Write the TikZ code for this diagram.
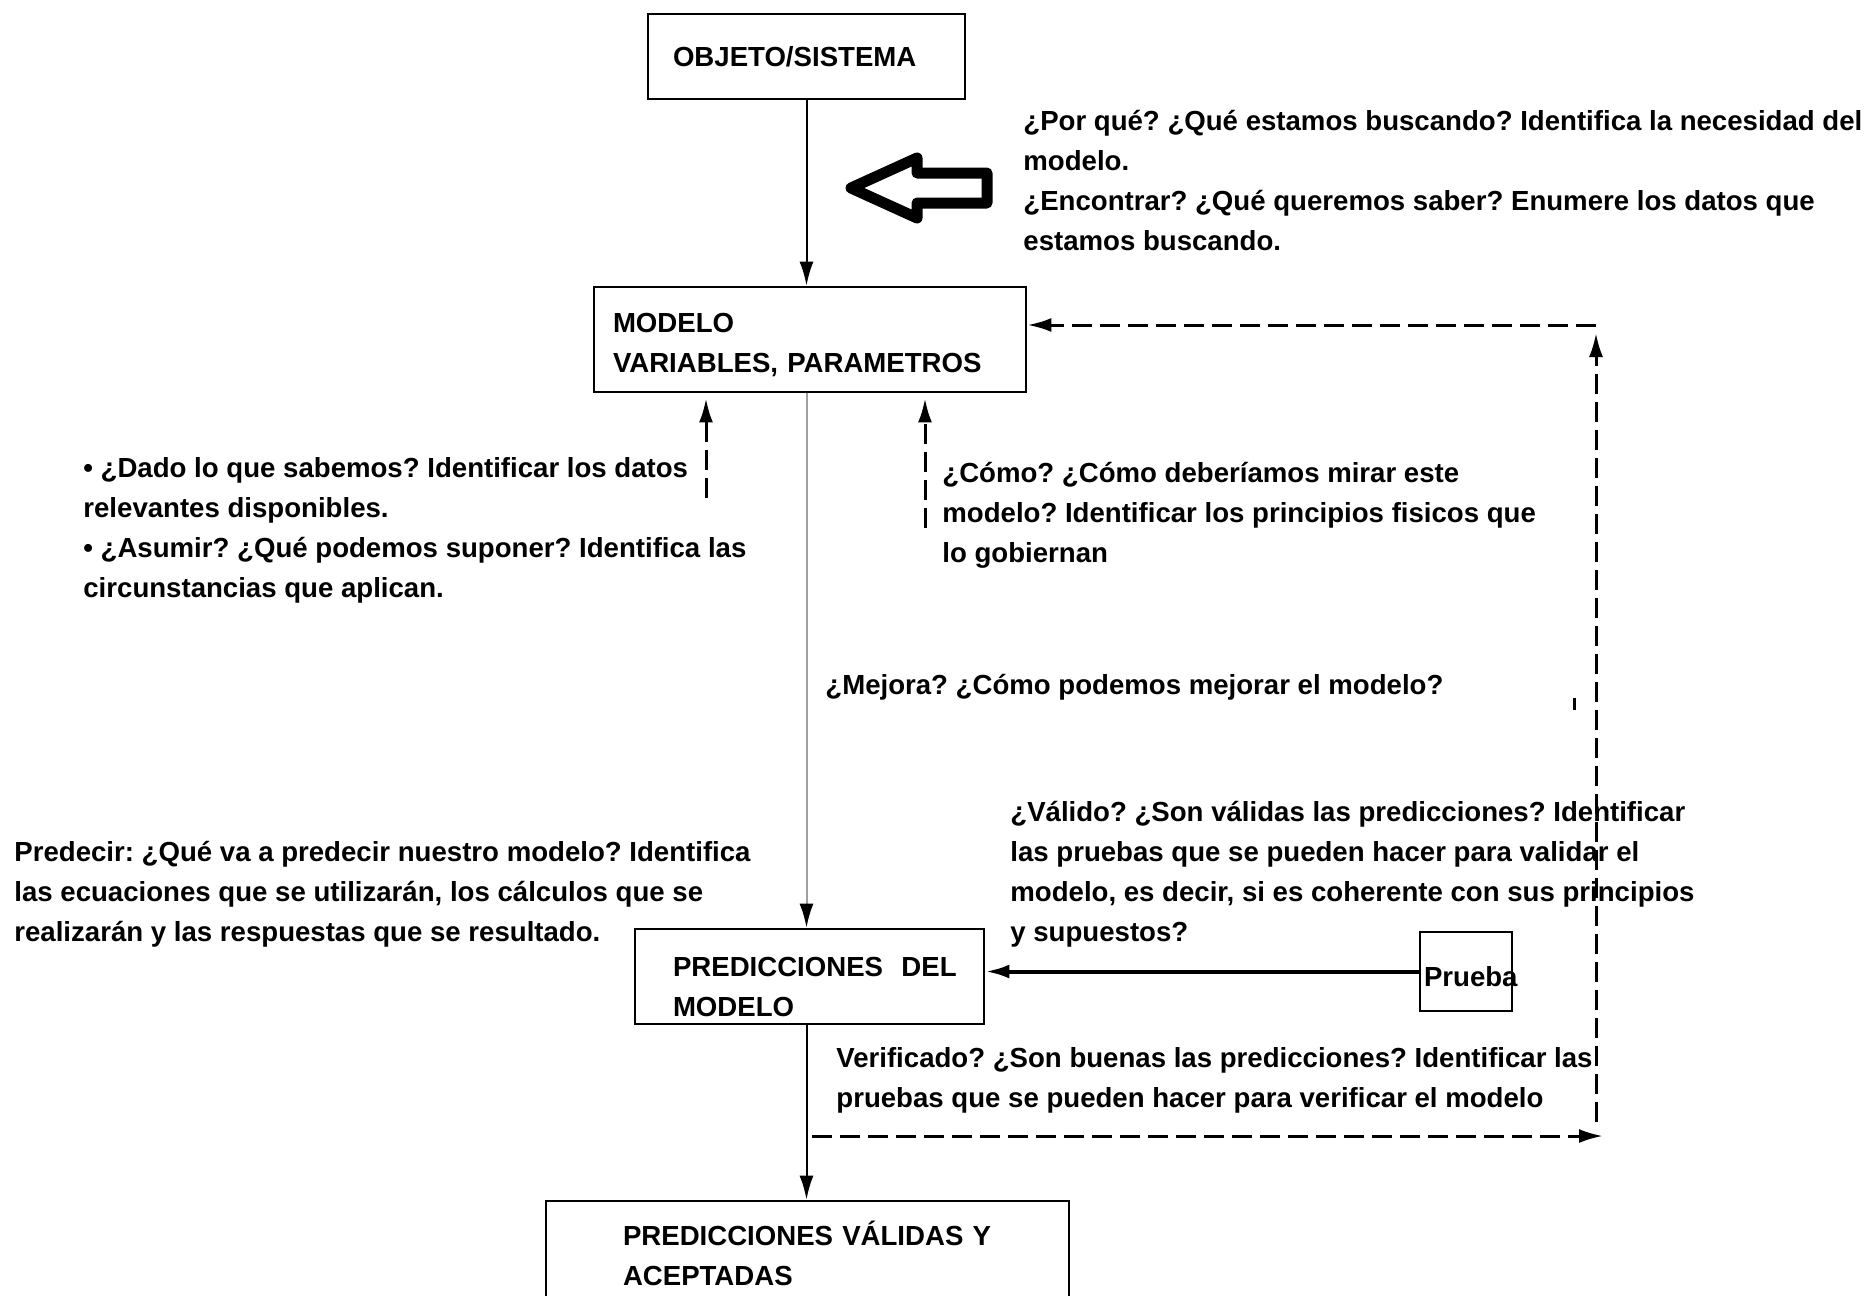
\documentclass[tikz,border=0pt]{standalone}
\usepackage{fontspec}
\setmainfont{Liberation Sans}
\frenchspacing
\usetikzlibrary{arrows.meta,positioning}
\tikzset{>={Latex[length=12pt,width=7pt]}}
\tikzset{stage/.style={rectangle,draw=black,line width=1.4pt,fill=white,align=left,inner ysep=0pt,font=\bfseries\fontsize{13.8}{20}\selectfont}}
\tikzset{note/.style={align=left,anchor=west,inner sep=0pt,font=\bfseries\fontsize{13.8}{20}\selectfont}}
\tikzset{flow/.style={->,line width=1pt}}
\tikzset{back/.style={->,line width=1.5pt,dash pattern=on 10pt off 4pt}}

\begin{document}
\begin{tikzpicture}[x=0.5pt,y=-0.5pt]
    \useasboundingbox (0,0) rectangle (1865,1296);

    \node[stage,text width=133.5pt,inner xsep=12.5pt,minimum height=42.5pt] (obj) at (806.5,56.5) {OBJETO/SISTEMA};
    \node[stage,text width=197pt,inner xsep=9.5pt,text height=22.5pt,text depth=30pt] (modelo) at (810,339.5) {MODELO\\VARIABLES, PARAMETROS};
    \node[stage,text width=136.5pt,inner xsep=19pt,text height=23.75pt,text depth=23.75pt] (pred) at (809.5,976.5) {\mbox{PREDICCIONES\ \ DEL}\\MODELO};
    \node[stage,text width=184.5pt,inner xsep=38.5pt,minimum height=52.5pt] (valid) at (807.5,1253.5) {\mbox{PREDICCIONES VÁLIDAS Y}\\ACEPTADAS};
    \node[stage,text width=42pt,inner xsep=2pt,text height=27pt,text depth=12.5pt,line width=1pt] (prueba) at (1466,971.5) {\mbox{Prueba}};

    \node[note] (porque)   at (1023,181) {¿Por qué? ¿Qué estamos buscando? Identifica la necesidad del\\modelo.\\¿Encontrar? ¿Qué queremos saber? Enumere los datos que\\estamos buscando.};
    \node[note] (dado)     at (83,530)   {• ¿Dado lo que sabemos? Identificar los datos\\relevantes disponibles.\\• ¿Asumir? ¿Qué podemos suponer? Identifica las\\circunstancias que aplican.};
    \node[note] (como)     at (942,515)  {¿Cómo? ¿Cómo deberíamos mirar este\\modelo? Identificar los principios fisicos que\\lo gobiernan};
    \node[note] (mejora)   at (825,687)  {¿Mejora? ¿Cómo podemos mejorar el modelo?};
    \node[note] (valido)   at (1010,874) {¿Válido? ¿Son válidas las predicciones? Identificar\\las pruebas que se pueden hacer para validar el\\modelo, es decir, si es coherente con sus principios\\y supuestos?};
    \node[note] (predecir) at (14,894)   {Predecir: ¿Qué va a predecir nuestro modelo? Identifica\\las ecuaciones que se utilizarán, los cálculos que se\\realizarán y las respuestas que se resultado.};
    \node[note] (verif)    at (836,1080) {Verificado? ¿Son buenas las predicciones? Identificar las\\pruebas que se pueden hacer para verificar el modelo};

    % hollow arrow pointing at the first step
    \draw[line width=5.5pt,line join=round] (851,188) -- (917,158) -- (917,173) -- (987,173) -- (987,203) -- (917,203) -- (917,218) -- cycle;

    \draw[flow] (obj.south) -- (obj.south |- modelo.north);
    \draw[flow,gray!75,-{Latex[length=12pt,width=7pt,color=black]}] (obj.south |- modelo.south) -- (obj.south |- pred.north);
    \draw[flow] (obj.south |- pred.south) -- (obj.south |- valid.north);
    \draw[flow,line width=2pt] (prueba.west) -- (prueba.west -| pred.east);

    \coordinate (dadofoot) at (706,498);
    \coordinate (comofoot) at (925,528);
    \draw[back,shorten >=2.5pt] (dadofoot) -- (dadofoot |- modelo.south);
    \draw[back,shorten >=2.5pt] (comofoot) -- (comofoot |- modelo.south);

    \coordinate (verifstart) at (812,1136);
    \coordinate (verifend)   at (1603,1136);
    \coordinate (loopfoot)   at (1596,1122);
    \coordinate (loopcorner) at (1596,325);
    \draw[back] (verifstart) -- (verifend);
    \draw[back] (loopfoot) -- ([yshift=-4pt]loopcorner);
    \draw[back] (loopcorner) -- (loopcorner -| modelo.east);

    \draw[line width=1.5pt] (1574,698) -- (1574,710);
\end{tikzpicture}
\end{document}
